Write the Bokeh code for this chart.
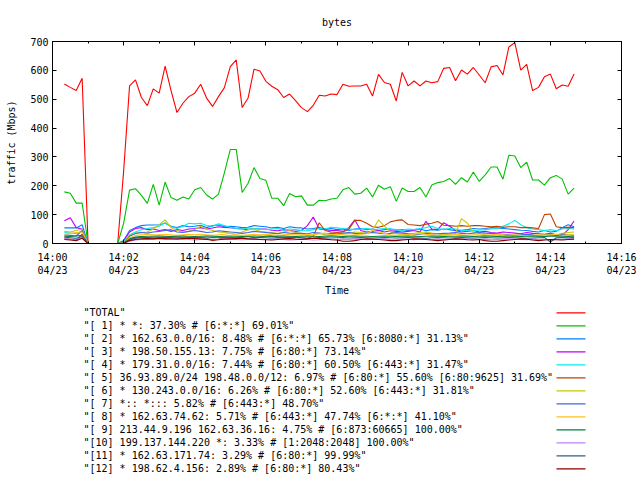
import pandas as pd
from bokeh.plotting import figure
from bokeh.layouts import column
from bokeh.core.properties import value
from bokeh.models import (FixedTicker, LinearAxis, Range1d, ColumnDataSource)
from bokeh.embed import file_html
from bokeh.resources import INLINE

# ---------------- data ----------------
times = pd.date_range("2015-04-23 14:00:20", periods=87, freq="10s")
tick_times = pd.date_range("2015-04-23 14:00", "2015-04-23 14:16", freq="2min")
minor_times = pd.date_range("2015-04-23 14:00", "2015-04-23 14:16", freq="1min")
tick_labels = ["14:00\n04/23", "14:02\n04/23", "14:04\n04/23", "14:06\n04/23", "14:08\n04/23",
               "14:10\n04/23", "14:12\n04/23", "14:14\n04/23", "14:16\n04/23"]
y_ticks = [0, 100, 200, 300, 400, 500, 600, 700]

names = [
    '"TOTAL"',
    '"[ 1] * *: 37.30% # [6:*:*] 69.01%"',
    '"[ 2] * 162.63.0.0/16: 8.48% # [6:*:*] 65.73% [6:8080:*] 31.13%"',
    '"[ 3] * 198.50.155.13: 7.75% # [6:80:*] 73.14%"',
    '"[ 4] * 179.31.0.0/16: 7.44% # [6:80:*] 60.50% [6:443:*] 31.47%"',
    '"[ 5] 36.93.89.0/24 198.48.0.0/12: 6.97% # [6:80:*] 55.60% [6:80:9625] 31.69%"',
    '"[ 6] * 130.243.0.0/16: 6.26% # [6:80:*] 52.60% [6:443:*] 31.81%"',
    '"[ 7] *:: *::: 5.82% # [6:443:*] 48.70%"',
    '"[ 8] * 162.63.74.62: 5.71% # [6:443:*] 47.74% [6:*:*] 41.10%"',
    '"[ 9] 213.44.9.196 162.63.36.16: 4.75% # [6:873:60665] 100.00%"',
    '"[10] 199.137.144.220 *: 3.33% # [1:2048:2048] 100.00%"',
    '"[11] * 162.63.171.74: 3.29% # [6:80:*] 99.99%"',
    '"[12] * 198.62.4.156: 2.89% # [6:80:*] 80.43%"',
]
colors = ["#ff0000", "#00c000", "#0080ff", "#c000ff", "#00eeee", "#c04000", "#c8c800",
          "#4169e1", "#ffc020", "#008040", "#c080ff", "#306080", "#8b0000"]

total = [553, 541, 530, 573,
         0, 0, 0, 0, 0, 0,
         250, 546, 567, 506, 478, 536,
         521, 615, 530, 454, 486, 509,
         521, 552, 504, 475, 509, 540,
         613, 636, 471, 504, 604, 598,
         562, 545, 533, 506, 518, 495,
         471, 457, 479, 514, 511, 518,
         516, 552, 545, 546, 546, 552,
         511, 586, 558, 552, 494, 593,
         546, 563, 546, 563, 557, 561,
         607, 610, 564, 601, 587, 610,
         584, 557, 612, 617, 584, 681,
         696, 601, 621, 530, 541, 578,
         587, 536, 549, 545, 587]
s1 = [179, 174, 140, 140,
      0, 0, 0, 0, 0, 0,
      70, 185, 190, 167, 139, 205,
      133, 213, 159, 150, 161, 154,
      186, 194, 168, 154, 171, 245,
      326, 326, 177, 209, 263, 225,
      219, 157, 157, 131, 173, 162,
      165, 133, 133, 150, 148, 154,
      157, 186, 194, 171, 174, 192,
      161, 202, 188, 197, 146, 192,
      180, 180, 194, 161, 203, 211,
      215, 225, 205, 228, 213, 248,
      215, 238, 265, 265, 223, 306,
      303, 263, 282, 220, 220, 202,
      228, 236, 223, 171, 192]
s2 = [54, 54, 54, 65,
      0, 0, 0, 0, 0, 0,
      10, 45, 55, 62, 64, 64,
      65, 70, 60, 55, 62, 58,
      60, 63, 55, 62, 64, 58,
      60, 58, 55, 56, 62, 60,
      58, 54, 56, 52, 58, 55,
      54, 50, 52, 55, 50, 52,
      48, 50, 45, 50, 52, 48,
      50, 45, 48, 50, 46, 48,
      45, 48, 50, 44, 48, 46,
      50, 48, 44, 46, 48, 52,
      50, 52, 55, 54, 52, 50,
      48, 46, 45, 42, 40, 45,
      40, 42, 55, 65, 58]
s3 = [79, 89, 55, 50,
      0, 0, 0, 0, 0, 0,
      8, 40, 52, 55, 48, 50,
      45, 48, 42, 48, 45, 50,
      52, 55, 50, 54, 58, 56,
      55, 52, 50, 48, 52, 50,
      50, 46, 44, 48, 45, 42,
      45, 62, 92, 50, 48, 45,
      45, 42, 55, 82, 45, 40,
      42, 45, 40, 44, 42, 40,
      42, 45, 40, 77, 50, 48,
      72, 60, 45, 40, 42, 45,
      40, 42, 38, 36, 40, 38,
      36, 34, 38, 35, 34, 32,
      35, 30, 28, 48, 78]
s4 = [38, 36, 35, 42,
      0, 0, 0, 0, 0, 0,
      5, 30, 40, 48, 52, 55,
      60, 72, 58, 52, 60, 70,
      68, 70, 62, 60, 68, 62,
      56, 52, 50, 54, 52, 50,
      48, 50, 52, 46, 50, 48,
      45, 44, 48, 52, 50, 56,
      54, 52, 50, 48, 50, 52,
      48, 50, 52, 50, 48, 46,
      50, 48, 52, 55, 60, 52,
      48, 52, 50, 46, 44, 45,
      46, 48, 50, 52, 60, 68,
      80, 65, 55, 50, 48, 45,
      48, 44, 50, 52, 50]
s5 = [18, 15, 12, 32,
      0, 0, 0, 0, 0, 0,
      2, 15, 20, 22, 20, 18,
      20, 22, 25, 22, 20, 18,
      20, 22, 18, 10, 15, 20,
      18, 20, 22, 25, 20, 22,
      25, 28, 22, 20, 18, 22,
      20, 18, 25, 72, 45, 40,
      38, 40, 50, 80, 80, 70,
      58, 56, 62, 75, 80, 82,
      66, 64, 62, 67, 70, 76,
      63, 62, 60, 62, 60, 62,
      62, 60, 58, 60, 56, 58,
      58, 55, 56, 54, 52, 100,
      102, 58, 55, 56, 55]
s6 = [42, 40, 45, 50,
      0, 0, 0, 0, 0, 0,
      3, 28, 35, 38, 40, 50,
      65, 82, 55, 45, 40, 42,
      48, 60, 50, 45, 40, 38,
      35, 32, 40, 48, 50, 42,
      40, 38, 35, 40, 45, 38,
      35, 30, 32, 35, 30, 28,
      30, 32, 35, 40, 38, 35,
      45, 82, 60, 40, 35, 30,
      32, 35, 38, 40, 36, 34,
      30, 32, 35, 86, 70, 40,
      35, 30, 28, 30, 25, 22,
      25, 28, 30, 26, 28, 30,
      32, 30, 35, 38, 40]
s7 = [30, 28, 26, 45,
      0, 0, 0, 0, 0, 0,
      2, 25, 35, 38, 36, 40,
      42, 45, 48, 40, 38, 42,
      45, 42, 38, 40, 44, 42,
      40, 38, 35, 38, 42, 40,
      38, 36, 34, 38, 36, 35,
      35, 34, 38, 36, 34, 35,
      34, 36, 38, 35, 34, 36,
      38, 36, 34, 35, 38, 36,
      34, 30, 32, 35, 33, 34,
      35, 36, 38, 35, 34, 36,
      38, 36, 35, 34, 32, 30,
      28, 30, 32, 30, 25, 28,
      30, 28, 32, 30, 28]
s8 = [32, 35, 38, 40,
      0, 0, 0, 0, 0, 0,
      2, 20, 28, 30, 32, 30,
      30, 32, 30, 28, 30, 32,
      30, 32, 30, 28, 30, 32,
      35, 30, 28, 30, 32, 30,
      32, 30, 28, 30, 32, 30,
      30, 32, 30, 34, 36, 30,
      32, 30, 28, 30, 32, 34,
      45, 40, 35, 30, 28, 30,
      30, 32, 35, 32, 30, 28,
      28, 30, 32, 30, 28, 30,
      30, 28, 30, 32, 30, 28,
      30, 28, 26, 28, 30, 28,
      30, 32, 28, 30, 30]
s9 = [25, 24, 26, 28,
      0, 0, 0, 0, 0, 0,
      2, 16, 22, 24, 25, 25,
      26, 25, 24, 25, 26, 25,
      24, 25, 26, 25, 24, 25,
      26, 25, 24, 25, 26, 25,
      25, 24, 25, 26, 25, 24,
      25, 26, 25, 24, 25, 26,
      25, 24, 25, 26, 25, 25,
      24, 25, 26, 25, 24, 25,
      26, 25, 24, 25, 26, 25,
      24, 25, 25, 26, 25, 24,
      25, 26, 25, 24, 25, 26,
      25, 24, 25, 26, 25, 24,
      25, 26, 25, 24, 25]
s10 = [18, 14, 16, 20,
       0, 0, 0, 0, 0, 0,
       1, 8, 12, 14, 15, 16,
       15, 14, 16, 18, 15, 14,
       12, 14, 15, 13, 14, 16,
       15, 14, 13, 15, 16, 14,
       14, 15, 16, 14, 12, 13,
       15, 14, 12, 13, 15, 14,
       13, 15, 14, 16, 15, 13,
       14, 15, 16, 14, 13, 15,
       14, 13, 15, 16, 14, 15,
       13, 14, 15, 14, 16, 15,
       14, 15, 13, 14, 15, 16,
       15, 14, 13, 15, 14, 13,
       14, 15, 14, 16, 15]
s11 = [22, 20, 18, 24,
       0, 0, 0, 0, 0, 0,
       1, 12, 18, 20, 21, 20,
       20, 22, 21, 19, 20, 21,
       22, 20, 19, 21, 20, 22,
       21, 20, 19, 18, 20, 21,
       20, 19, 21, 20, 22, 21,
       20, 18, 19, 21, 20, 19,
       20, 21, 19, 20, 21, 20,
       19, 20, 21, 20, 19, 20,
       21, 20, 19, 18, 20, 21,
       20, 19, 20, 21, 20, 19,
       20, 21, 20, 19, 20, 21,
       20, 19, 18, 19, 20, 21,
       5, 20, 21, 20, 21]
s12 = [14, 12, 10, 18,
       0, 0, 0, 0, 0, 0,
       1, 10, 14, 16, 17, 16,
       18, 17, 16, 15, 17, 18,
       17, 16, 14, 12, 13, 15,
       16, 17, 18, 16, 15, 14,
       13, 12, 14, 16, 17, 15,
       14, 16, 18, 17, 15, 13,
       12, 8, 8, 10, 14, 16,
       15, 14, 12, 10, 10, 12,
       14, 16, 15, 14, 12, 10,
       12, 14, 16, 15, 13, 12,
       14, 10, 8, 8, 10, 12,
       14, 16, 15, 12, 10, 12,
       14, 13, 12, 14, 15]

series = [total, s1, s2, s3, s4, s5, s6, s7, s8, s9, s10, s11, s12]
for s in series:
    assert len(s) == len(times), len(s)

# ---------------- chart ----------------
FONT = "DejaVu Sans Mono"
FS = "10px"
FRAME_L, FRAME_R = 52, 19


def ms(idx):
    return [float(v) for v in (idx.asi8 // 10**6)]


xt = ms(tick_times)
xm = ms(minor_times)

p = figure(width=640, height=300, output_backend="svg", toolbar_location=None,
           x_axis_type="datetime",
           x_range=Range1d(xt[0], xt[-1]), y_range=Range1d(0, 700),
           min_border_left=FRAME_L, min_border_right=FRAME_R, min_border_top=40, min_border_bottom=57,
           background_fill_color="white", border_fill_color="white")
p.grid.visible = False
p.outline_line_color = "black"
p.outline_line_width = 1
p.outline_line_alpha = 1

p.title.text = "bytes"
p.title.align = "center"
p.title.text_font = FONT
p.title.text_font_size = FS
p.title.text_font_style = "normal"
p.title.text_color = "black"
p.title.standoff = 28

# bottom x axis
xa = p.xaxis[0]
xa.ticker = FixedTicker(ticks=xt, minor_ticks=xm)
xa.major_label_overrides = {t: lab for t, lab in zip(xt, tick_labels)}
xa.axis_label = "Time"
xa.axis_label_text_font = FONT
xa.axis_label_text_font_size = FS
xa.axis_label_text_font_style = "normal"
xa.axis_label_text_color = "black"
xa.axis_label_standoff = 6
xa.major_label_text_font = FONT
xa.major_label_text_font_size = FS
xa.major_label_text_color = "black"
xa.major_label_standoff = 8
xa.major_tick_in = 4
xa.major_tick_out = 0
xa.minor_tick_in = 2
xa.minor_tick_out = 0
xa.axis_line_color = "black"
xa.major_tick_line_color = "black"
xa.minor_tick_line_color = "black"

# left y axis
ya = p.yaxis[0]
ya.ticker = FixedTicker(ticks=y_ticks)
ya.axis_label = "traffic (Mbps)"
ya.axis_label_text_font = FONT
ya.axis_label_text_font_size = FS
ya.axis_label_text_font_style = "normal"
ya.axis_label_text_color = "black"
ya.axis_label_standoff = 10
ya.major_label_text_font = FONT
ya.major_label_text_font_size = FS
ya.major_label_text_color = "black"
ya.major_label_standoff = 4
ya.major_tick_in = 4
ya.major_tick_out = 0
ya.minor_tick_line_color = None
ya.axis_line_color = "black"
ya.major_tick_line_color = "black"

# mirrored ticks (top and right), no labels
ra = LinearAxis(ticker=FixedTicker(ticks=y_ticks), major_label_text_font_size="1px",
                major_label_text_color=None, major_label_standoff=0,
                major_tick_in=4, major_tick_out=0,
                minor_tick_line_color=None, axis_line_color="black", major_tick_line_color="black")
p.add_layout(ra, "right")
ta = LinearAxis(ticker=FixedTicker(ticks=xt, minor_ticks=xm), major_label_text_font_size="1px",
                major_label_text_color=None, major_label_standoff=0,
                major_tick_in=4, major_tick_out=0, minor_tick_in=2, minor_tick_out=0,
                axis_line_color="black", major_tick_line_color="black", minor_tick_line_color="black")
p.add_layout(ta, "above")

for vals, col in zip(series, colors):
    p.line(times, vals, line_color=col, line_width=1.1)

# ---------------- key (below the chart) ----------------
KEY_H = 180
# the key panel uses pixel units: x = page pixel, y = pixels from the top of the panel
k = figure(width=640, height=KEY_H, output_backend="svg", toolbar_location=None,
           x_range=Range1d(FRAME_L, 640 - FRAME_R), y_range=Range1d(KEY_H, 0),
           x_axis_location=None, y_axis_location=None,
           min_border_left=FRAME_L, min_border_right=FRAME_R,
           min_border_top=0, min_border_bottom=0,
           background_fill_color="white", border_fill_color="white")
k.grid.visible = False
k.outline_line_color = None

row_y = [12.3 + 13 * i for i in range(len(names))]
key_src = ColumnDataSource(dict(name=names, color=colors, y=row_y,
                                tx=[83] * len(names), lx0=[556] * len(names), lx1=[585] * len(names)))
k.text(x="tx", y="y", text="name", source=key_src, text_baseline="middle", text_align="left",
       text_font=value(FONT), text_font_size=FS, text_color="black")
k.segment(x0="lx0", y0="y", x1="lx1", y1="y", source=key_src, line_color="color", line_width=1.2)

layout = column(p, k, spacing=0)
open("out.html", "w").write(file_html(layout, INLINE))
